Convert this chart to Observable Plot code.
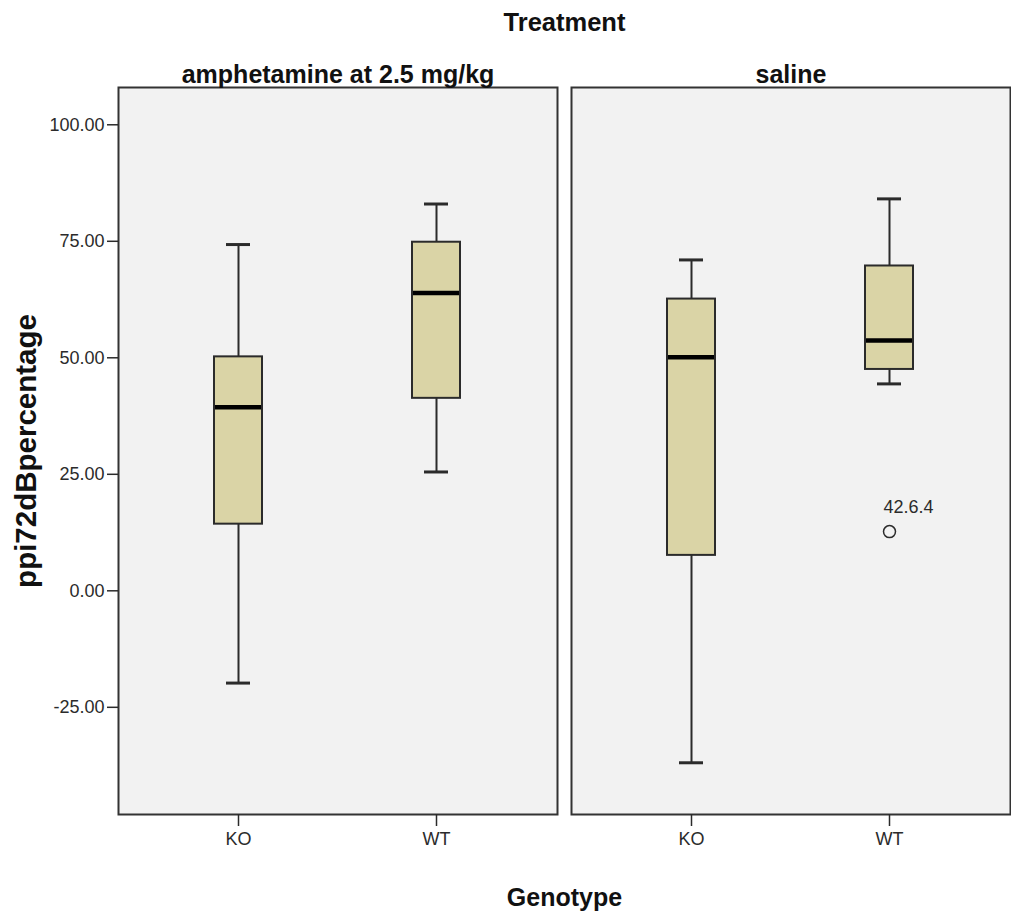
<!DOCTYPE html>
<html>
<head>
<meta charset="utf-8">
<script src="https://cdn.jsdelivr.net/npm/d3@7"></script>
<script src="https://cdn.jsdelivr.net/npm/@observablehq/plot@0.6"></script>
<style>
  html, body { margin: 0; padding: 0; background: #ffffff; overflow: hidden; }
  #chart svg { display: block; }
</style>
</head>
<body>
<div id="chart"></div>
<script>
// ---- data ----
const treatments = ["amphetamine at 2.5 mg/kg", "saline"];
const genotypes = ["KO", "WT"];

const boxTreatment = ["amphetamine at 2.5 mg/kg", "amphetamine at 2.5 mg/kg", "saline", "saline"];
const boxGenotype  = ["KO", "WT", "KO", "WT"];
const whiskerLow   = [-19.8, 25.5, -36.9, 44.4];
const quartile1    = [14.3, 41.3, 7.6, 47.5];
const medians      = [39.4, 63.9, 50.1, 53.7];
const quartile3    = [50.2, 74.8, 62.6, 69.7];
const whiskerHigh  = [74.3, 83.0, 71.0, 84.1];

const outlierTreatment = ["saline"];
const outlierGenotype  = ["WT"];
const outlierValue     = [12.7];
const outlierLabel     = ["42.6.4"];

const yTicks = [-25, 0, 25, 50, 75, 100];

const titleText = "Treatment";
const xLabelText = "Genotype";
const yLabelText = "ppi72dBpercentage";

// ---- tables built from the arrays ----
const boxes = boxTreatment.map((t, i) => ({
  treatment: t, genotype: boxGenotype[i],
  lo: whiskerLow[i], q1: quartile1[i], med: medians[i], q3: quartile3[i], hi: whiskerHigh[i]
}));
const outliers = outlierTreatment.map((t, i) => ({
  treatment: t, genotype: outlierGenotype[i], value: outlierValue[i], label: outlierLabel[i]
}));
const firstFacet = [{treatment: treatments[0]}];

const font = "'Liberation Sans', Arial, sans-serif";
const ink = "#2b2b2b";

const chart = Plot.plot({
  width: 1011,
  height: 916,
  marginTop: 87,
  marginBottom: 102,
  marginLeft: 117,
  marginRight: -4,
  facet: {marginTop: 0, marginBottom: 0, marginLeft: 0, marginRight: 0},
  style: {background: "#ffffff", fontFamily: font, color: ink, overflow: "hidden"},
  fx: {domain: treatments, paddingInner: 0.0307, paddingOuter: 0},
  x: {domain: genotypes, padding: 0.21},
  y: {domain: [-48, 108]},
  marks: [
    Plot.frame({fill: "#f2f2f2", stroke: "#333333", strokeWidth: 2}),
    Plot.axisFx({anchor: "top", tickSize: 0, tickPadding: 5, fontSize: 25, fontWeight: "bold",
                 fontFamily: font, fill: "#111", label: null}),
    Plot.axisY({anchor: "left", ticks: yTicks, tickFormat: d => d.toFixed(2), tickSize: 11, tickPadding: 3,
                fontSize: 18, fontFamily: font, stroke: ink, strokeWidth: 1.5, fill: ink, label: null}),
    Plot.axisX({anchor: "bottom", tickSize: 12, tickPadding: 6, fontSize: 18, fontFamily: font,
                stroke: ink, strokeWidth: 1.5, fill: ink, label: null}),
    // whiskers
    Plot.ruleX(boxes, {fx: "treatment", x: "genotype", y1: "lo", y2: "q1", stroke: ink, strokeWidth: 2}),
    Plot.ruleX(boxes, {fx: "treatment", x: "genotype", y1: "q3", y2: "hi", stroke: ink, strokeWidth: 2}),
    Plot.tickY(boxes, {fx: "treatment", x: "genotype", y: "lo", stroke: ink, strokeWidth: 3, insetLeft: 66, insetRight: 66}),
    Plot.tickY(boxes, {fx: "treatment", x: "genotype", y: "hi", stroke: ink, strokeWidth: 3, insetLeft: 66, insetRight: 66}),
    // boxes
    Plot.barY(boxes, {fx: "treatment", x: "genotype", y1: "q1", y2: "q3", fill: "#dad4a6", stroke: ink,
                      strokeWidth: 2, insetLeft: 54, insetRight: 54}),
    // medians
    Plot.tickY(boxes, {fx: "treatment", x: "genotype", y: "med", stroke: "#000", strokeWidth: 4.5, insetLeft: 55, insetRight: 55}),
    // outliers
    Plot.dot(outliers, {fx: "treatment", x: "genotype", y: "value", r: 6, stroke: ink, strokeWidth: 1.5, fill: "none"}),
    Plot.text(outliers, {fx: "treatment", x: "genotype", y: "value", text: "label", dx: -6, dy: -24,
                         textAnchor: "start", lineAnchor: "middle", fontSize: 18, fontFamily: font, fill: ink}),
    // titles
    Plot.text(firstFacet, {fx: "treatment", text: () => titleText, frameAnchor: "top-right", dx: 7, dy: -65,
                           textAnchor: "middle", lineAnchor: "middle", fontSize: 25.5, fontWeight: "bold",
                           fontFamily: font, fill: "#111"}),
    Plot.text(firstFacet, {fx: "treatment", text: () => xLabelText, frameAnchor: "bottom-right", dx: 7, dy: 83,
                           textAnchor: "middle", lineAnchor: "middle", fontSize: 25, fontWeight: "bold",
                           fontFamily: font, fill: "#111"}),
    Plot.text(firstFacet, {fx: "treatment", text: () => yLabelText, frameAnchor: "left", dx: -92,
                           rotate: -90, textAnchor: "middle", lineAnchor: "middle", fontSize: 29.5, fontWeight: "bold",
                           fontFamily: font, fill: "#111"})
  ]
});
document.getElementById("chart").appendChild(chart);
</script>
</body>
</html>
